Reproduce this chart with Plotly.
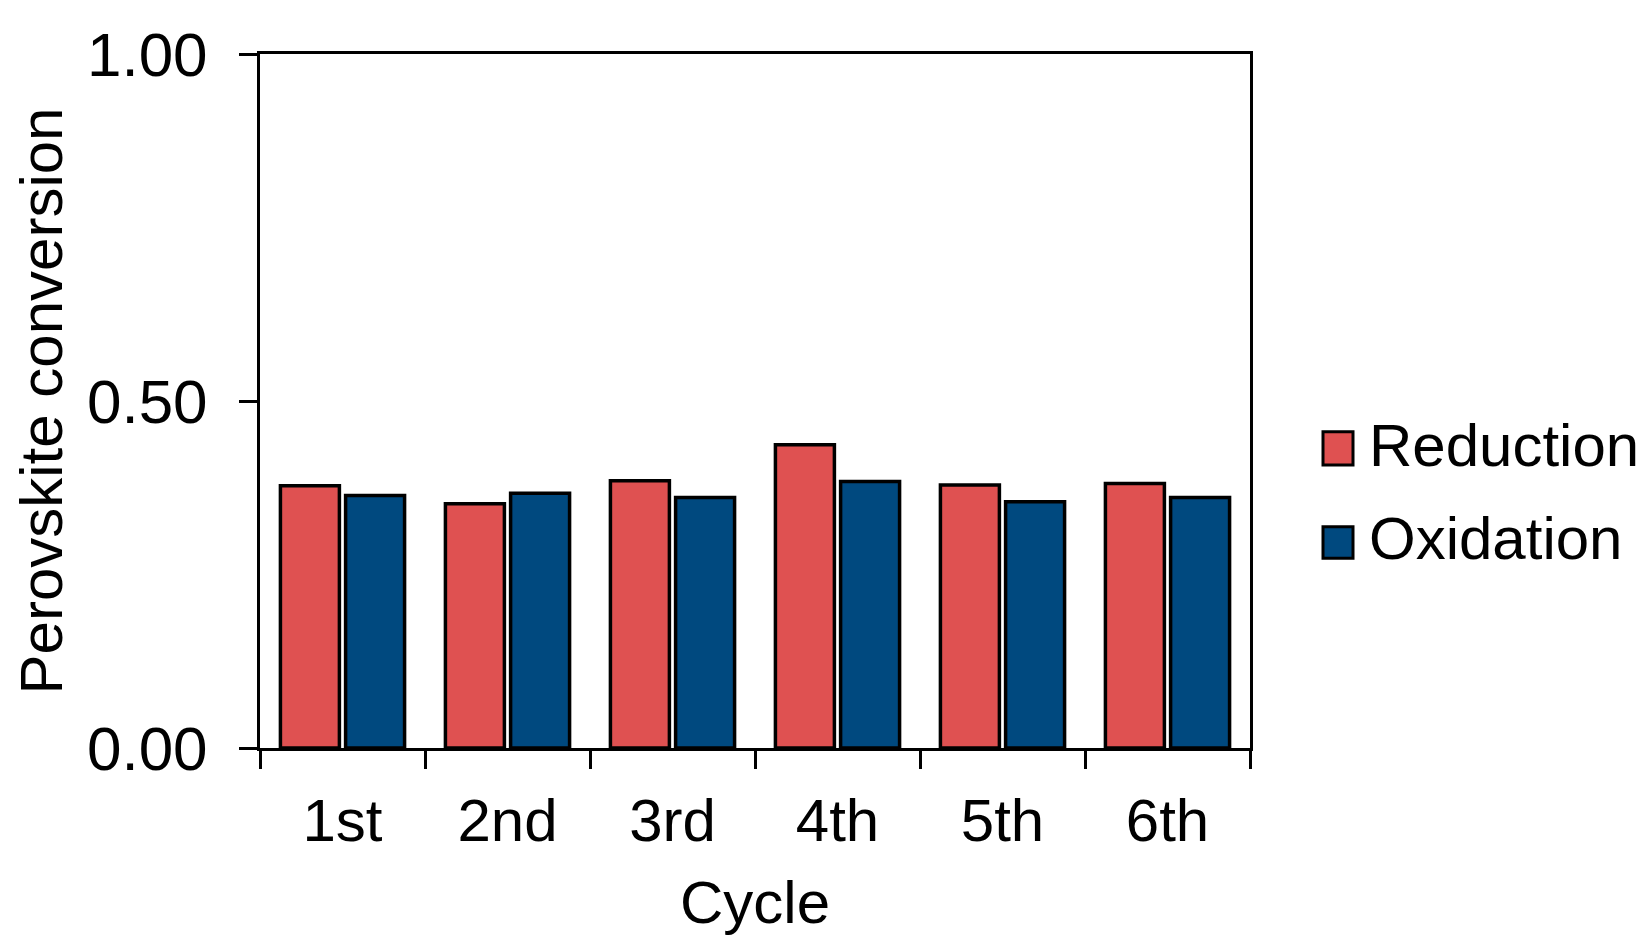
import plotly.graph_objects as go

cycles = ["1st", "2nd", "3rd", "4th", "5th", "6th"]
reduction = [0.378, 0.352, 0.385, 0.437, 0.379, 0.381]
oxidation = [0.364, 0.367, 0.361, 0.384, 0.355, 0.361]
series_names = ["Reduction", "Oxidation"]
series_colors = ["#DF5151", "#00497F"]

# page has an 8px body margin; figure sized to fit inside the window
OFF = 8
W, H = 1633, 933
# plot-area edges in page pixels
L, R, T, B = 260, 1250, 54, 748
FONT = "Liberation Sans, Arial, sans-serif"
FS = 60
FS_Y = 62

fig = go.Figure()
for name, vals, col in zip(series_names, [reduction, oxidation], series_colors):
    fig.add_trace(go.Bar(
        x=cycles, y=vals, name=name,
        marker=dict(color=col, line=dict(color="black", width=3.5)),
        showlegend=False,
    ))

fig.update_layout(
    width=W, height=H,
    margin=dict(l=L - OFF, r=W - (R - OFF), t=T - OFF, b=H - (B - OFF), pad=0),
    paper_bgcolor="white", plot_bgcolor="white",
    barmode="group", bargap=0.21, bargroupgap=0.095,
    font=dict(family=FONT, size=FS, color="black"),
)
fig.update_xaxes(
    showline=True, linecolor="black", linewidth=3, mirror=True,
    ticks="outside", ticklen=18, tickwidth=3, tickcolor="black",
    tickson="boundaries", showgrid=False,
    tickfont=dict(size=FS), ticklabelstandoff=18,
    title=dict(text="Cycle", font=dict(size=FS), standoff=28),
)
fig.update_yaxes(
    range=[0, 1], tickvals=[0, 0.5, 1.0], ticktext=["0.00", "0.50", "1.00"],
    showline=True, linecolor="black", linewidth=3, mirror=True,
    ticks="outside", ticklen=18, tickwidth=3, tickcolor="black",
    showgrid=False, zeroline=False,
    tickfont=dict(size=FS_Y), ticklabelstandoff=19,
    title=dict(text="Perovskite conversion", font=dict(size=FS), standoff=20),
)

# manual legend (large square symbols)
pw, ph = R - L, B - T
def px_x(x):
    return (x - L) / pw
def px_y(y):
    return (B - y) / ph

leg_rows = [(431.7, 465.0, 444), (526.7, 558.3, 537)]
for (y0, y1, yc), name, col in zip(leg_rows, series_names, series_colors):
    fig.add_shape(type="rect", xref="paper", yref="paper",
                  x0=px_x(1323), x1=px_x(1353), y0=px_y(y1), y1=px_y(y0),
                  fillcolor=col, line=dict(color="black", width=3))
    fig.add_annotation(xref="paper", yref="paper", x=px_x(1367), y=px_y(yc + 1),
                       text=name, showarrow=False, xanchor="left", yanchor="middle",
                       font=dict(size=FS, family=FONT, color="black"))

fig.write_html("out.html")
